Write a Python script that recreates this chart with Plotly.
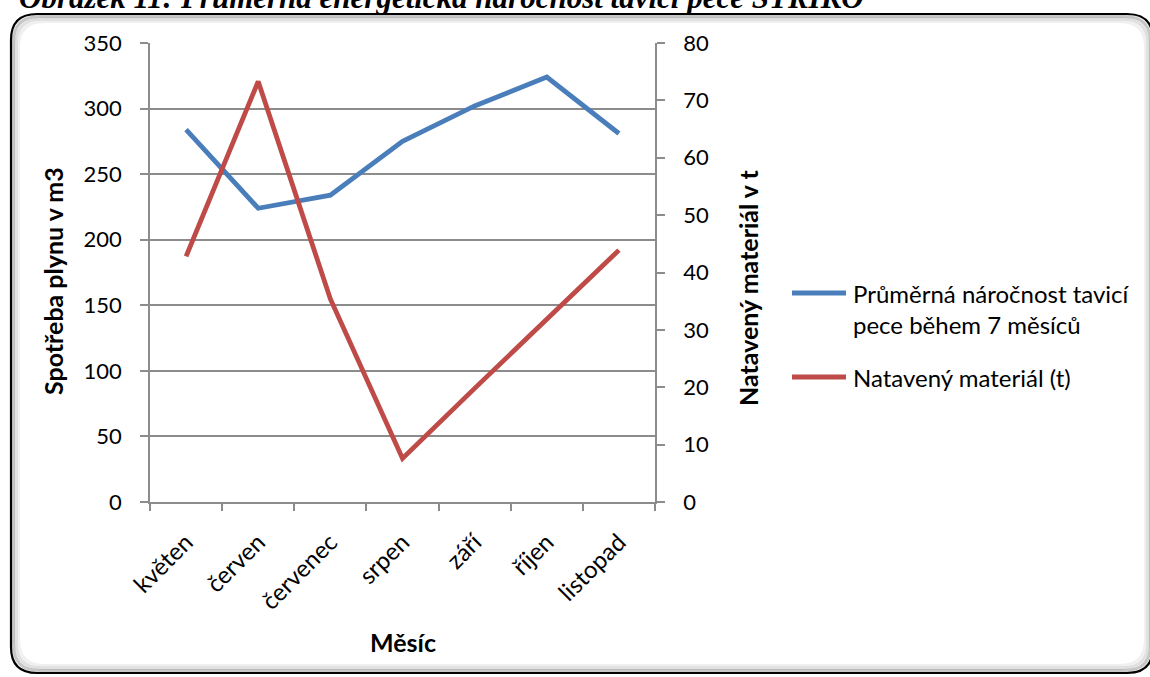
import plotly.graph_objects as go

# Months and series values
months = ["květen", "červen", "červenec", "srpen", "září", "říjen", "listopad"]
gas_use = [284, 224, 234, 275, 302, 324, 281]          # Spotřeba plynu v m3 (left axis)
melted = [42.8, 73.3, 35.4, 7.6, 19.8, 31.9, 43.9]     # Natavený materiál v t (right axis)

series_names = ["Průměrná náročnost tavicí<br>pece během 7 měsíců", "Natavený materiál (t)"]
BLUE = "#4A7EBB"
RED = "#BE4B48"
GRID = "#8C8C8C"
FONT = "Lato"

W, H = 1150, 677
L, R, T, B = 150, 495, 43, 175
PW, PH = W - L - R, H - T - B


def px(x):
    return (x - L) / PW


def py(y):
    return (H - B - y) / PH


fig = go.Figure()
fig.add_trace(go.Scatter(x=months, y=gas_use, name=series_names[0], mode="lines",
                         line=dict(color=BLUE, width=4.8), yaxis="y", showlegend=False))
fig.add_trace(go.Scatter(x=months, y=melted, name=series_names[1], mode="lines",
                         line=dict(color=RED, width=4.8), yaxis="y2", showlegend=False))

tickfont = dict(family=FONT, size=22, color="#000")

fig.update_layout(
    width=W, height=H,
    margin=dict(l=L, r=R, t=T, b=B),
    paper_bgcolor="white", plot_bgcolor="white",
    xaxis=dict(type="category", tickson="boundaries", ticks="outside", ticklen=7,
               tickcolor=GRID, tickwidth=1.5, showline=True, linecolor=GRID, linewidth=1.5,
               showgrid=False, tickangle=-45, tickfont=dict(family=FONT, size=24, color="#000"),
               ticklabelstandoff=15, range=[-0.5, 6.5]),
    yaxis=dict(range=[0, 350], dtick=50, ticks="outside", ticklen=8, tickcolor=GRID,
               tickwidth=1.5, showline=True, linecolor=GRID, linewidth=1.5,
               showgrid=True, gridcolor=GRID, gridwidth=1.5, zeroline=False,
               tickfont=tickfont, ticklabelstandoff=14),
    yaxis2=dict(range=[0, 80], dtick=10, overlaying="y", side="right", ticks="outside",
                ticklen=8, tickcolor=GRID, tickwidth=1.5, showline=True, linecolor=GRID,
                linewidth=1.5, showgrid=False, zeroline=False, tickfont=tickfont,
                ticklabelstandoff=14),
)

# Axis titles
title_font = dict(family=FONT, size=25, color="#000", weight="bold")
fig.add_annotation(text="Spotřeba plynu v m3", x=px(53), y=py(281), xref="paper", yref="paper",
                   xanchor="center", yanchor="middle", textangle=-90, showarrow=False,
                   font=title_font)
fig.add_annotation(text="Natavený materiál v t", x=px(748), y=py(288), xref="paper", yref="paper",
                   xanchor="center", yanchor="middle", textangle=-90, showarrow=False,
                   font=title_font)
fig.add_annotation(text="Měsíc", x=px(403), y=py(642), xref="paper", yref="paper",
                   xanchor="center", yanchor="middle", showarrow=False, font=title_font)

# Legend drawn beside the plot
legend_font = dict(family=FONT, size=24, color="#000")
for color, name, ly in [(BLUE, series_names[0], 293), (RED, series_names[1], 377)]:
    fig.add_shape(type="line", xref="paper", yref="paper", x0=px(792), x1=px(846),
                  y0=py(ly), y1=py(ly), line=dict(color=color, width=4.8))
    fig.add_annotation(text=name, x=px(851), y=py(ly - 16), xref="paper", yref="paper",
                       xanchor="left", yanchor="top", align="left", showarrow=False,
                       font=legend_font)


# Rounded frame with a soft inner shadow
def rounded(x0, y0, x1, y1, r):
    pts = [
        f"M {px(x0 + r)},{py(y0)}",
        f"L {px(x1 - r)},{py(y0)}",
        f"Q {px(x1)},{py(y0)} {px(x1)},{py(y0 + r)}",
        f"L {px(x1)},{py(y1 - r)}",
        f"Q {px(x1)},{py(y1)} {px(x1 - r)},{py(y1)}",
        f"L {px(x0 + r)},{py(y1)}",
        f"Q {px(x0)},{py(y1)} {px(x0)},{py(y1 - r)}",
        f"L {px(x0)},{py(y0 + r)}",
        f"Q {px(x0)},{py(y0)} {px(x0 + r)},{py(y0)}",
        "Z",
    ]
    return " ".join(pts)


for i, op in enumerate([0.22, 0.12, 0.06]):
    d = 2.5 + i * 2.5
    fig.add_shape(type="path", xref="paper", yref="paper", layer="below",
                  path=rounded(11 + d, 14 + d, 1153 - d, 673 - d, 26),
                  line=dict(color=f"rgba(0,0,0,{op})", width=3))
fig.add_shape(type="path", xref="paper", yref="paper", layer="above",
              path=rounded(11, 14, 1153, 673, 26), line=dict(color="#000", width=2.2))

# Figure caption above the frame
fig.add_annotation(text="<b><i>Obrázek 11: Průměrná energetická náročnost tavicí pece STRIKO</i></b>",
                   x=px(866), y=py(17), xref="paper", yref="paper", xanchor="right",
                   yanchor="bottom", showarrow=False,
                   font=dict(family="Liberation Serif", size=31, color="#000"))

fig.write_html("out.html")
